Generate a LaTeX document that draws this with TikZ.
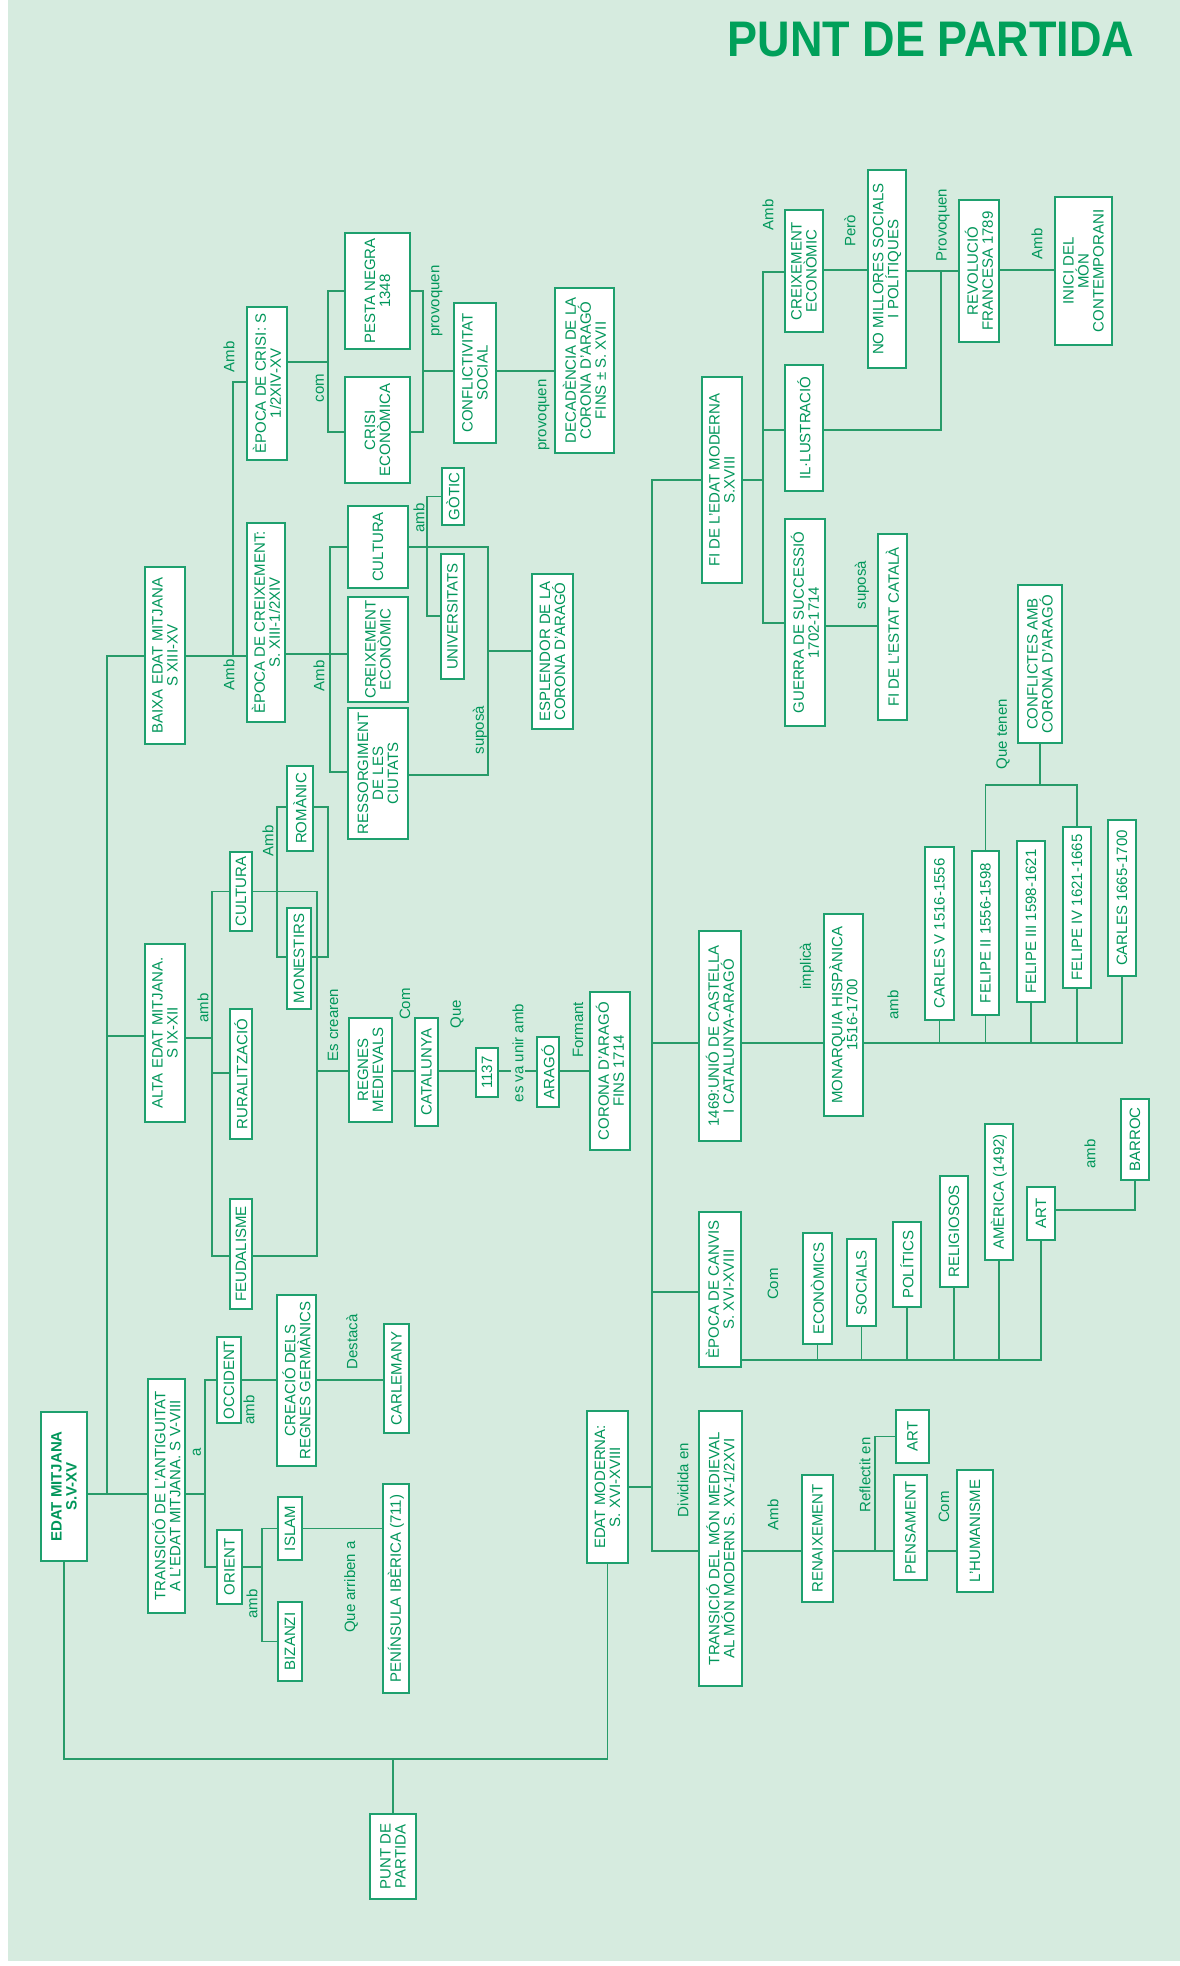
\documentclass[tikz,border=0pt]{standalone}
\usepackage{fontspec}
\setmainfont{Liberation Sans}
\definecolor{bgc}{RGB}{214,235,223}
\definecolor{boxc}{RGB}{30,160,110}
\definecolor{txtc}{RGB}{0,150,90}
\definecolor{linec}{RGB}{40,155,105}
\definecolor{titc}{RGB}{0,160,90}
\newcommand\boxfnt{\fontsize{15}{15}\selectfont}
\newcommand\labfnt{\fontsize{15}{16}\selectfont}
\begin{document}
\begin{tikzpicture}[x=1pt,y=-1pt,
  box/.style={draw=boxc, fill=white, line width=1.8pt, rotate=90, align=center, inner sep=1pt, text=txtc, font=\boxfnt},
  lab/.style={rotate=90, text=txtc, font=\labfnt, inner sep=1pt},
  ln/.style={draw=linec, line width=1.3pt}]
\useasboundingbox (0,0) rectangle (1180,1966);
\fill[bgc] (8,0) rectangle (1180,1961);
\node[font=\bfseries\fontsize{50}{50}\selectfont, text=titc, xscale=0.9] (title) at (931,40) {PUNT DE PARTIDA};

% ---------- boxes ----------
\node[box, minimum width=116, minimum height=65] (pesta) at (377.5,291) {PESTA NEGRA\\1348};
\node[box, minimum width=106, minimum height=65] (crisiec) at (377.5,430) {CRISI\\ECONÒMICA};
\node[box, minimum width=153, minimum height=40] (epcrisi) at (267,383.5) {ÈPOCA DE CRISI: S\\1/2XIV-XV};
\node[box, minimum width=140, minimum height=42] (conflict) at (475,373) {CONFLICTIVITAT\\SOCIAL};
\node[box, minimum width=165, minimum height=59] (decad) at (584.5,370.5) {DECADÈNCIA DE LA\\CORONA D'ARAGÓ\\FINS ± S. XVII};
\node[box, minimum width=82, minimum height=60] (cultB) at (378,547) {CULTURA};
\node[box, minimum width=105, minimum height=60] (creixB) at (378,649.5) {CREIXEMENT\\ECONÒMIC};
\node[box, minimum width=131, minimum height=60] (ressorg) at (378,773.5) {RESSORGIMENT\\DE LES\\CIUTATS};
\node[box, minimum width=199, minimum height=38] (epcreix) at (266,622.5) {ÈPOCA DE CREIXEMENT:\\S. XIII-1/2XIV};
\node[box, minimum width=177, minimum height=40] (baixa) at (165,655.5) {BAIXA EDAT MITJANA\\S XIII-XV};
\node[box, minimum width=57, minimum height=22] (gotic) at (453,496.5) {GÒTIC};
\node[box, minimum width=125, minimum height=23] (univ) at (452.5,616.5) {UNIVERSITATS};
\node[box, minimum width=155, minimum height=41] (esplendor) at (552.5,651.5) {ESPLENDOR DE LA\\CORONA D'ARAGÓ};
\node[box, minimum width=206, minimum height=40] (fimod) at (722,480) {FI DE L'EDAT MODERNA\\S.XVIII};
\node[box, minimum width=122, minimum height=38] (creixM) at (804,271) {CREIXEMENT\\ECONÒMIC};
\node[box, minimum width=198, minimum height=38] (nomill) at (887,269) {NO MILLORES SOCIALS\\I POLÍTIQUES};
\node[box, minimum width=142, minimum height=40] (revol) at (979,271) {REVOLUCIÓ\\FRANCESA 1789};
\node[box, minimum width=148, minimum height=57] (inici) at (1083.5,271) {INICI DEL\\MÓN\\CONTEMPORANI};
\node[box, minimum width=126, minimum height=38] (illust) at (804,428) {IL·LUSTRACIÓ};
\node[box, minimum width=207, minimum height=40] (guerra) at (805,622.5) {GUERRA DE SUCCESSIÓ\\1702-1714};
\node[box, minimum width=186, minimum height=29] (fiestat) at (892.5,627) {FI DE L'ESTAT CATALÀ};
\node[box, minimum width=158, minimum height=44] (conflic) at (1040,664) {CONFLICTES AMB\\CORONA D'ARAGÓ};
\node[box, minimum width=173, minimum height=29] (carlesv) at (939.5,933.5) {CARLES V 1516-1556};
\node[box, minimum width=164, minimum height=27] (felip2) at (985.5,933) {FELIPE II 1556-1598};
\node[box, minimum width=161, minimum height=28] (felip3) at (1031,921.5) {FELIPE III 1598-1621};
\node[box, minimum width=161, minimum height=28] (felip4) at (1077,907.5) {FELIPE IV 1621-1665};
\node[box, minimum width=156, minimum height=28] (carles2) at (1122,898) {CARLES 1665-1700};
\node[box, minimum width=202, minimum height=39] (monarq) at (843.5,1015) {MONARQUIA HISPÀNICA\\1516-1700};
\node[box, minimum width=210, minimum height=42] (unio) at (720,1036) {1469:UNIÓ DE CASTELLA\\I CATALUNYA-ARAGÓ};
\node[box, minimum width=155, minimum height=42] (canvis) at (720,1289.5) {ÈPOCA DE CANVIS\\S. XVI-XVIII};
\node[box, minimum width=111, minimum height=29] (econ) at (817.5,1288.5) {ECONÒMICS};
\node[box, minimum width=87, minimum height=29] (socials) at (861.5,1282.5) {SOCIALS};
\node[box, minimum width=85, minimum height=28] (polit) at (907,1264.5) {POLÍTICS};
\node[box, minimum width=111, minimum height=28] (relig) at (954,1231.5) {RELIGIOSOS};
\node[box, minimum width=136, minimum height=28] (amer) at (999,1192) {AMÈRICA (1492)};
\node[box, minimum width=53, minimum height=28] (artM) at (1041,1213.5) {ART};
\node[box, minimum width=81, minimum height=28] (barroc) at (1135,1139.5) {BARROC};
\node[box, minimum width=152, minimum height=41] (edatmod) at (607.5,1487) {EDAT MODERNA:\\S. XVI-XVIII};
\node[box, minimum width=275, minimum height=43] (transmod) at (720.5,1548.5) {TRANSICIÓ DEL MÓN MEDIEVAL\\AL MÓN MODERN S. XV-1/2XVI};
\node[box, minimum width=127, minimum height=31] (renaix) at (817.5,1538.5) {RENAIXEMENT};
\node[box, minimum width=53, minimum height=33] (artR) at (912.5,1436.5) {ART};
\node[box, minimum width=105, minimum height=33] (pensam) at (910.5,1527.5) {PENSAMENT};
\node[box, minimum width=122, minimum height=36] (human) at (975,1531) {L'HUMANISME};
\node[box, minimum width=85, minimum height=46] (punt) at (393,1856.5) {PUNT DE\\PARTIDA};
\node[box, minimum width=149, minimum height=46, font=\boxfnt\bfseries] (edatmit) at (64,1486.5) {EDAT MITJANA\\S.V-XV};
\node[box, minimum width=234, minimum height=37] (transant) at (166.5,1496) {TRANSICIÓ DE L'ANTIGUITAT\\A L'EDAT MITJANA. S V-VIII};
\node[box, minimum width=74, minimum height=25] (orient) at (229.5,1567) {ORIENT};
\node[box, minimum width=63, minimum height=24] (islam) at (290,1528.5) {ISLAM};
\node[box, minimum width=79, minimum height=24] (bizanzi) at (290,1641.5) {BIZANZI};
\node[box, minimum width=209, minimum height=26] (penins) at (396,1588.5) {PENÍNSULA IBÈRICA (711)};
\node[box, minimum width=86, minimum height=24] (occid) at (229,1380) {OCCIDENT};
\node[box, minimum width=171, minimum height=39] (creacio) at (296.5,1380.5) {CREACIÓ DELS\\REGNES GERMÀNICS};
\node[box, minimum width=109, minimum height=25] (carlem) at (396.5,1378.5) {CARLEMANY};
\node[box, minimum width=178, minimum height=40] (alta) at (165,1033) {ALTA EDAT MITJANA.\\S IX-XII};
\node[box, minimum width=130, minimum height=22] (rural) at (241,1074) {RURALITZACIÓ};
\node[box, minimum width=110, minimum height=22] (feud) at (241,1254) {FEUDALISME};
\node[box, minimum width=79, minimum height=22] (cultA) at (241,891.5) {CULTURA};
\node[box, minimum width=85, minimum height=26] (romanic) at (300,808.5) {ROMÀNIC};
\node[box, minimum width=101, minimum height=24] (monest) at (299,958.5) {MONESTIRS};
\node[box, minimum width=104, minimum height=43] (regnes) at (370.5,1070) {REGNES\\MEDIEVALS};
\node[box, minimum width=108, minimum height=23] (catal) at (426.5,1072) {CATALUNYA};
\node[box, minimum width=49, minimum height=22] (n1137) at (487,1072.5) {1137};
\node[box, minimum width=70, minimum height=22] (arago) at (548,1072) {ARAGÓ};
\node[box, minimum width=158, minimum height=40] (corona) at (610,1071) {CORONA D'ARAGÓ\\FINS 1714};

% ---------- connectors ----------
% root
\draw[ln] (edatmit.west) -- (edatmit.west |- 0,1759) -- (edatmod.west |- 0,1759) -- (edatmod.west);
\draw[ln] (punt.east) -- (punt.east |- 0,1759);
% medieval spine
\draw[ln] (baixa.north |- 0,656) -| (107,1494) -- (transant.north |- 0,1494);
\draw[ln] (alta.north |- 0,1036) -- (107,1036);
\draw[ln] (edatmit.south |- 0,1494) -- (107,1494);
% baixa edat mitjana
\draw[ln] (baixa.south |- 0,656) -- (epcreix.north |- 0,656);
\draw[ln] (233,656) |- (epcrisi.north |- 0,382);
\draw[ln] (epcrisi.south |- 0,362) -- (328,362);
\draw[ln] (pesta.north) -| (328,432) -- (crisiec.north |- 0,432);
\draw[ln] (pesta.south) -| (423,432) -- (crisiec.south |- 0,432);
\draw[ln] (423,371) -- (conflict.north |- 0,371);
\draw[ln] (conflict.south |- 0,371) -- (decad.north |- 0,371);
\draw[ln] (epcreix.south |- 0,654) -- (330,654);
\draw[ln] (cultB.north) -| (330,772) -- (ressorg.north |- 0,772);
\draw[ln] (330,654) -- (creixB.north |- 0,654);
\draw[ln] (cultB.south) -| (488,775) -- (ressorg.south |- 0,775);
\draw[ln] (488,651) -- (esplendor.north |- 0,651);
\draw[ln] (gotic.north) -| (427,616) -- (univ.north |- 0,616);
% edat moderna spine
\draw[ln] (fimod.north) -| (652,1551) -- (transmod.north |- 0,1551);
\draw[ln] (652,1043) -- (unio.north |- 0,1043);
\draw[ln] (652,1292) -- (canvis.north |- 0,1292);
\draw[ln] (edatmod.south |- 0,1487) -- (652,1487);
% fi edat moderna
\draw[ln] (fimod.south) -- (763,480);
\draw[ln] (creixM.north |- 0,272) -| (763,623) -- (guerra.north |- 0,623);
\draw[ln] (763,430) -- (illust.north |- 0,430);
\draw[ln] (creixM.south |- 0,270) -- (nomill.north |- 0,270);
\draw[ln] (nomill.south |- 0,271) -- (revol.north |- 0,271);
\draw[ln] (illust.south |- 0,430) -| (941,271);
\draw[ln] (revol.south |- 0,270) -- (inici.north |- 0,270);
\draw[ln] (guerra.south |- 0,626) -- (fiestat.north |- 0,626);
% 1469 / monarquia
\draw[ln] (unio.south |- 0,1043) -- (monarq.north |- 0,1043);
\draw[ln] (monarq.south |- 0,1043) -- (carles2.west |- 0,1043) -- (carles2.west);
\foreach \n in {carlesv,felip2,felip3,felip4} \draw[ln] (\n.west) -- (\n.west |- 0,1043);
\draw[ln] (conflic.west) -- (conflic.west |- 0,785);
\draw[ln] (felip2.east) |- (felip4.east |- 0,785) -- (felip4.east);
% epoca de canvis
\draw[ln] (canvis.south |- 0,1360) -- (artM.west |- 0,1360) -- (artM.west);
\foreach \n in {econ,socials,polit,relig,amer} \draw[ln] (\n.west) -- (\n.west |- 0,1360);
\draw[ln] (artM.south |- 0,1210) -| (barroc.west);
% transicio moderna
\draw[ln] (transmod.south |- 0,1551) -- (renaix.north |- 0,1551);
\draw[ln] (renaix.south |- 0,1551) -- (pensam.north |- 0,1551);
\draw[ln] (875,1551) |- (artR.north);
\draw[ln] (pensam.south |- 0,1551) -- (human.north |- 0,1551);
% transicio antiguitat
\draw[ln] (transant.south |- 0,1494) -- (205,1494);
\draw[ln] (occid.north) -| (205,1567) -- (orient.north);
\draw[ln] (orient.south) -- (262,1567);
\draw[ln] (islam.north) -| (bizanzi.north -| 262,0) -- (bizanzi.north);
\draw[ln] (islam.south) -- (penins.north |- islam.south);
\draw[ln] (occid.south) -- (creacio.north |- occid.south);
\draw[ln] (creacio.south |- occid.south) -- (carlem.north |- occid.south);
% alta edat mitjana
\draw[ln] (alta.south |- 0,1038) -- (212,1038);
\draw[ln] (cultA.north) -| (212,1256) -- (feud.north |- 0,1256);
\draw[ln] (212,1073) -- (rural.north |- 0,1073);
\draw[ln] (cultA.south) -| (317,1256) -- (feud.south |- 0,1256);
\draw[ln] (317,1071) -- (regnes.north |- 0,1071);
\draw[ln] (romanic.north |- 0,807) -- (277,807) -- (277,957) -- (monest.north |- 0,957);
\draw[ln] (romanic.south |- 0,807) -- (328,807) -- (328,957) -- (monest.south |- 0,957);
\draw[ln] (regnes.south |- 0,1071) -- (catal.north |- 0,1071);
\draw[ln] (catal.south |- 0,1071) -- (n1137.north |- 0,1071);
\draw[ln] (n1137.south |- 0,1071) -- (arago.north |- 0,1071);
\draw[ln] (arago.south |- 0,1071) -- (corona.north |- 0,1071);

% ---------- labels ----------
\node[lab] (l1) at (229,357) {Amb};
\node[lab] (l2) at (320,388) {com};
\node[lab] (l3) at (437,301) {provoquen};
\node[lab] (l4) at (544,415) {provoquen};
\node[lab] (l5) at (419,518) {amb};
\node[lab] (l6) at (480,730) {suposà};
\node[lab] (l7) at (768,215) {Amb};
\node[lab] (l8) at (850,231) {Però};
\node[lab] (l9) at (943,225) {Provoquen};
\node[lab] (l10) at (1037,244) {Amb};
\node[lab] (l11) at (862,585) {suposà};
\node[lab] (l12) at (1003,734) {Que tenen};
\node[lab] (l13) at (807,966) {implicà};
\node[lab] (l14) at (893,1005) {amb};
\node[lab] (l15) at (1090,1154) {amb};
\node[lab] (l16) at (773,1284) {Com};
\node[lab] (l17) at (683,1480) {Dividida en};
\node[lab] (l18) at (773,1515) {Amb};
\node[lab] (l19) at (865,1475) {Reflectit en};
\node[lab] (l20) at (944,1507) {Com};
\node[lab] (l21) at (197,1452) {a};
\node[lab] (l22) at (252,1604) {amb};
\node[lab] (l23) at (351,1587) {Que arriben a};
\node[lab] (l24) at (249,1410) {amb};
\node[lab] (l25) at (352,1342) {Destacà};
\node[lab] (l26) at (203,1008) {amb};
\node[lab] (l27) at (268,841) {Amb};
\node[lab] (l28) at (333,1025) {Es crearen};
\node[lab] (l29) at (405,1004) {Com};
\node[lab] (l30) at (457,1014) {Que};
\node[lab, fill=bgc] (l31) at (518,1053) {es va unir amb};
\node[lab] (l32) at (578,1030) {Formant};
\node[lab] (l33) at (229,675) {Amb};
\node[lab] (l34) at (319,676) {Amb};
\end{tikzpicture}
\end{document}
